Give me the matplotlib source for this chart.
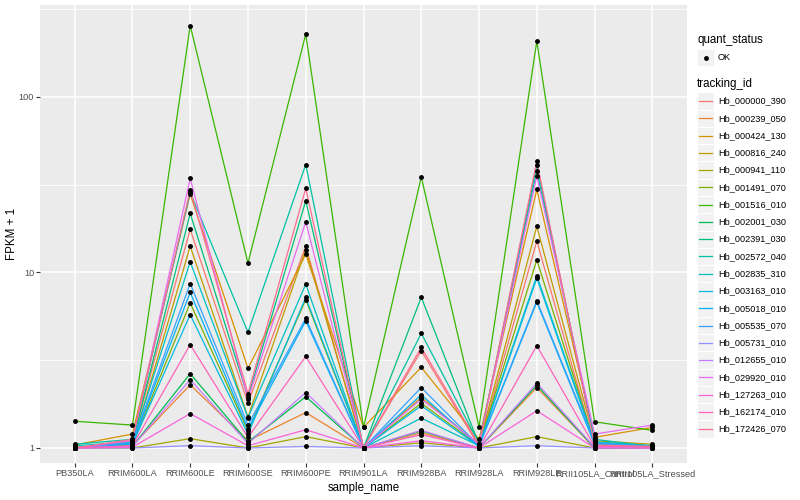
import matplotlib
matplotlib.use("Agg")
import matplotlib.pyplot as plt
from matplotlib.patches import Rectangle
from matplotlib.lines import Line2D
from matplotlib.ticker import FixedLocator, NullFormatter

plt.rcParams['font.family'] = ['Liberation Sans', 'DejaVu Sans']

samples = ["PB350LA", "RRIM600LA", "RRIM600LE", "RRIM600SE", "RRIM600PE",
           "RRIM901LA", "RRIM928BA", "RRIM928LA", "RRIM928LE",
           "RRII105LA_Control", "RRII105LA_Stressed"]

tracking_ids = ["Hb_000000_390", "Hb_000239_050", "Hb_000424_130",
                "Hb_000816_240", "Hb_000941_110", "Hb_001491_070",
                "Hb_001516_010", "Hb_002001_030", "Hb_002391_030",
                "Hb_002572_040", "Hb_002835_310", "Hb_003163_010",
                "Hb_005018_010", "Hb_005535_070", "Hb_005731_010",
                "Hb_012655_010", "Hb_029920_010", "Hb_127263_010",
                "Hb_162174_010", "Hb_172426_070"]

# ggplot hue palette, 20 levels
colors = ["#F8766D", "#EA8331", "#D89000", "#C09B00", "#A3A500", "#7CAE00",
          "#39B600", "#00BB4E", "#00BF7D", "#00C1A3", "#00BFC4", "#00BAE0",
          "#00B0F6", "#35A2FF", "#9590FF", "#C77CFF", "#E76BF3", "#FA62DB",
          "#FF62BC", "#FF6C91"]

# FPKM + 1, one list per tracking id, in sample order
hb_000000_390 = [1.00, 1.10, 17.6, 1.80, 14.1, 1.00, 3.58, 1.02, 15.1, 1.03, 1.01]
hb_000239_050 = [1.01, 1.03, 2.29, 1.10, 1.59, 1.00, 1.22, 1.00, 2.21, 1.00, 1.00]
hb_000424_130 = [1.04, 1.20, 28.0, 2.84, 12.7, 1.31, 2.88, 1.12, 29.7, 1.15, 1.31]
hb_000816_240 = [1.00, 1.05, 14.1, 1.50, 13.5, 1.00, 1.94, 1.05, 18.3, 1.10, 1.05]
hb_000941_110 = [1.00, 1.00, 1.13, 1.00, 1.16, 1.00, 1.07, 1.00, 1.16, 1.00, 1.00]
hb_001491_070 = [1.00, 1.04, 6.70, 1.25, 7.00, 1.00, 1.80, 1.03, 11.8, 1.06, 1.02]
hb_001516_010 = [1.42, 1.35, 255.0, 11.3, 228.0, 1.31, 35.0, 1.32, 208.0, 1.41, 1.26]
hb_002001_030 = [1.00, 1.02, 2.65, 1.08, 1.96, 1.00, 1.25, 1.00, 2.28, 1.00, 1.00]
hb_002391_030 = [1.00, 1.08, 21.7, 1.95, 25.6, 1.00, 7.22, 1.05, 41.0, 1.08, 1.03]
hb_002572_040 = [1.05, 1.12, 28.6, 4.56, 41.2, 1.00, 4.50, 1.06, 37.9, 1.12, 1.02]
hb_002835_310 = [1.03, 1.08, 11.5, 1.49, 8.57, 1.00, 1.48, 1.03, 9.57, 1.08, 1.03]
hb_003163_010 = [1.00, 1.05, 5.75, 1.20, 7.20, 1.00, 1.74, 1.02, 9.28, 1.06, 1.02]
hb_005018_010 = [1.00, 1.06, 7.70, 1.28, 5.30, 1.00, 2.01, 1.02, 6.77, 1.05, 1.01]
hb_005535_070 = [1.00, 1.07, 8.65, 1.35, 5.48, 1.00, 2.21, 1.03, 6.90, 1.07, 1.02]
hb_005731_010 = [1.00, 1.00, 1.03, 1.00, 1.02, 1.00, 1.03, 1.00, 1.03, 1.00, 1.00]
hb_012655_010 = [1.00, 1.02, 2.45, 1.06, 2.07, 1.00, 1.26, 1.00, 2.34, 1.01, 1.00]
hb_029920_010 = [1.00, 1.10, 34.3, 1.90, 19.4, 1.00, 1.90, 1.05, 35.4, 1.20, 1.35]
hb_127263_010 = [1.00, 1.01, 1.57, 1.03, 1.27, 1.00, 1.10, 1.00, 1.63, 1.00, 1.00]
hb_162174_010 = [1.00, 1.03, 3.88, 1.15, 3.32, 1.00, 1.19, 1.00, 3.83, 1.02, 1.01]
hb_172426_070 = [1.00, 1.12, 29.5, 2.04, 30.1, 1.00, 3.74, 1.04, 43.0, 1.04, 1.02]

series = [hb_000000_390, hb_000239_050, hb_000424_130, hb_000816_240,
          hb_000941_110, hb_001491_070, hb_001516_010, hb_002001_030,
          hb_002391_030, hb_002572_040, hb_002835_310, hb_003163_010,
          hb_005018_010, hb_005535_070, hb_005731_010, hb_012655_010,
          hb_029920_010, hb_127263_010, hb_162174_010, hb_172426_070]

W, H = 800, 500
fig = plt.figure(figsize=(8, 5), dpi=100)
# panel in pixels: x 40..687, y 5..463
ax = fig.add_axes([40 / W, 1 - 463 / H, 647 / W, 458 / H])
ax.set_facecolor("#EBEBEB")
for s in ax.spines.values():
    s.set_visible(False)

xs = list(range(len(samples)))
for vals, c in zip(series, colors):
    ax.plot(xs, vals, color=c, lw=0.9, zorder=2)
for vals in series:
    ax.plot(xs, vals, ls="none", marker="o", ms=2.5, color="black",
            mec="black", zorder=3)

ax.set_yscale("log")
ax.set_ylim(0.821, 334)
ax.set_xlim(-0.6, len(samples) - 0.4)
ax.yaxis.set_major_locator(FixedLocator([1, 10, 100]))
ax.set_yticklabels(["1", "10", "100"])
ax.yaxis.set_minor_locator(FixedLocator([10 ** 0.5, 10 ** 1.5, 10 ** 2.5]))
ax.yaxis.set_minor_formatter(NullFormatter())
ax.set_xticks(xs)
ax.set_xticklabels(samples)
ax.set_axisbelow(True)
ax.grid(which="major", color="white", lw=1.1)
ax.yaxis.grid(which="minor", color="white", lw=0.55)
ax.tick_params(which="major", length=2.6, width=0.8, color="#333333",
               labelsize=6.6, labelcolor="#4D4D4D", pad=1.6)
ax.tick_params(which="minor", length=0)


def px(x, y):
    return x / W, 1 - y / H


# axis titles
fig.text(*px(363.5, 488), "sample_name", fontsize=8.3, ha="center", va="center")
fig.text(*px(12, 234), "FPKM + 1", fontsize=8.3, ha="center", va="center",
         rotation=90)

# legends drawn by hand in pixel coordinates (top-left origin)
fig.text(*px(697, 40), "quant_status", fontsize=8.3, va="center", ha="left")
fig.patches.append(Rectangle(px(697, 66), 17 / W, 17 / H, transform=fig.transFigure,
                             facecolor="#F2F2F2", edgecolor="white", lw=0.5))
fig.lines.append(Line2D([px(705.5, 57.5)[0]], [px(705.5, 57.5)[1]], marker="o",
                        ms=2.5, color="black", transform=fig.transFigure))
fig.text(*px(718, 57.5), "OK", fontsize=6.6, va="center", ha="left")

fig.text(*px(697, 84), "tracking_id", fontsize=8.3, va="center", ha="left")
step = 17.27
for i, (tid, c) in enumerate(zip(tracking_ids, colors)):
    yc = 101 + i * step
    fig.patches.append(Rectangle(px(697, yc + step / 2), 17 / W, step / H,
                                 transform=fig.transFigure,
                                 facecolor="#F2F2F2", edgecolor="white", lw=0.8))
    x0, y0 = px(699, yc)
    x1, _ = px(712, yc)
    fig.lines.append(Line2D([x0, x1], [y0, y0], color=c, lw=0.9,
                            transform=fig.transFigure))
    fig.text(*px(718, yc), tid, fontsize=6.6, va="center", ha="left")

fig.savefig("out.png", dpi=100)
